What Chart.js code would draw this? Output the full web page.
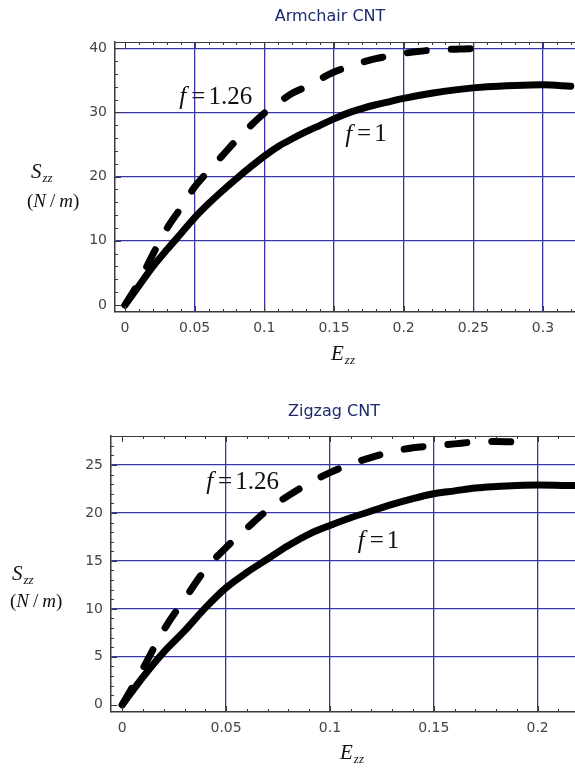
<!DOCTYPE html>
<html>
<head>
<meta charset="utf-8">
<title>Armchair / Zigzag CNT</title>
<script src="https://cdn.jsdelivr.net/npm/chart.js@4.4.1/dist/chart.umd.min.js"></script>
<style>
  html, body { margin: 0; padding: 0; background: #fff; }
  #wrap { position: relative; width: 575px; height: 769px; }
  canvas { position: absolute; left: 0; }
</style>
</head>
<body>
<div id="wrap">
  <canvas id="armchairChart" width="575" height="385" style="top:0"></canvas>
  <canvas id="zigzagChart" width="575" height="384" style="top:385px"></canvas>
</div>
<script>
// Armchair CNT: strain E_zz -> stress S_zz (N/m)
const armStrainF1 = [0, 0.01, 0.02, 0.03, 0.04, 0.05, 0.06, 0.07, 0.08, 0.09, 0.1,
  0.11, 0.12, 0.13, 0.14, 0.15, 0.16, 0.17, 0.18, 0.19, 0.2,
  0.22, 0.24, 0.26, 0.28, 0.3, 0.32];
const armStressF1 = [0, 3, 6, 8.6, 11.1, 13.6, 15.8, 17.8, 19.7, 21.5, 23.2,
  24.7, 25.9, 27.0, 28.0, 29.0, 29.9, 30.6, 31.2, 31.7, 32.2,
  33.0, 33.6, 34.0, 34.2, 34.3, 34.1];
const armStrainF126 = [0, 0.01, 0.02, 0.03, 0.04, 0.05, 0.06, 0.07, 0.08, 0.09, 0.1,
  0.11, 0.12, 0.13, 0.14, 0.15, 0.16, 0.17, 0.18, 0.19, 0.2,
  0.21, 0.22, 0.23, 0.24, 0.25, 0.262];
const armStressF126 = [0, 3.6, 7.9, 11.9, 15.1, 18.4, 20.9, 23.3, 25.7, 27.9, 29.9,
  31.5, 33.0, 34.0, 35.2, 36.3, 37.1, 37.8, 38.4, 38.8, 39.2,
  39.5, 39.7, 39.8, 39.9, 39.95, 40.0];
const armXTicks = [0, 0.05, 0.1, 0.15, 0.2, 0.25, 0.3];
const armYTicks = [0, 10, 20, 30, 40];

// Zigzag CNT
const zigStrainF1 = [0, 0.01, 0.02, 0.03, 0.04, 0.05, 0.06, 0.07, 0.08, 0.09, 0.1,
  0.11, 0.12, 0.13, 0.14, 0.15, 0.16, 0.17, 0.18, 0.19, 0.2, 0.218];
const zigStressF1 = [0, 2.9, 5.5, 7.7, 10.1, 12.2, 13.8, 15.2, 16.6, 17.8, 18.7,
  19.5, 20.2, 20.9, 21.5, 22.0, 22.3, 22.6, 22.75, 22.85, 22.9, 22.85];
const zigStrainF126 = [0, 0.01, 0.02, 0.03, 0.04, 0.05, 0.06, 0.07, 0.08, 0.09, 0.1,
  0.11, 0.12, 0.13, 0.14, 0.15, 0.16, 0.17, 0.18, 0.19, 0.198];
const zigStressF126 = [0, 3.8, 7.8, 11.0, 14.1, 16.4, 18.4, 20.3, 21.8, 23.1, 24.2,
  25.1, 25.8, 26.4, 26.8, 27.0, 27.2, 27.4, 27.45, 27.4, 27.4];
const zigXTicks = [0, 0.05, 0.1, 0.15, 0.2];
const zigYTicks = [0, 5, 10, 15, 20, 25];

const GRID_BLUE = '#3636a8';
const FRAME = '#3a3a3a';
const SERIF = "'Liberation Serif', 'DejaVu Serif', serif";

// helper: write a run of text pieces (italic / subscript) one after another
function drawPieces(ctx, x, y, pieces) {
  let cx = x;
  pieces.forEach(p => {
    ctx.font = (p.italic ? 'italic ' : '') + p.size + 'px ' + SERIF;
    ctx.fillText(p.text, cx, y + (p.dy || 0));
    cx += ctx.measureText(p.text).width + (p.gap || 0);
  });
}

// frame on top, minor + major ticks pointing inward (Mathematica style)
const frameTicksPlugin = {
  id: 'frameTicks',
  afterDatasetsDraw(chart, args, opts) {
    const { ctx, chartArea: a, scales: { x, y } } = chart;
    ctx.save();
    ctx.strokeStyle = FRAME;
    ctx.lineWidth = 1;
    ctx.beginPath();
    ctx.moveTo(a.left, a.top + 0.5);
    ctx.lineTo(a.right, a.top + 0.5);

    const tickX = (step, len) => {
      for (let i = Math.ceil(x.min / step); i * step <= x.max; i++) {
        const px = Math.round(x.getPixelForValue(i * step)) + 0.5;
        ctx.moveTo(px, a.bottom); ctx.lineTo(px, a.bottom - len);
        ctx.moveTo(px, a.top); ctx.lineTo(px, a.top + len);
      }
    };
    const tickY = (step, len) => {
      for (let i = Math.ceil(y.min / step); i * step <= y.max; i++) {
        const py = Math.round(y.getPixelForValue(i * step)) + 0.5;
        ctx.moveTo(a.left, py); ctx.lineTo(a.left + len, py);
      }
    };
    tickX(opts.xMinor, 3);
    tickX(opts.xMajor, 6);
    tickY(opts.yMinor, 3);
    tickY(opts.yMajor, 6);
    ctx.stroke();
    ctx.restore();
  }
};

// titles, axis names and curve labels
const textPlugin = {
  id: 'texts',
  afterDraw(chart, args, opts) {
    const { ctx, scales: { x, y } } = chart;
    ctx.save();
    ctx.fillStyle = '#1c2a6e';
    ctx.font = "16px 'DejaVu Sans', sans-serif";
    ctx.textAlign = 'center';
    ctx.textBaseline = 'middle';
    ctx.fillText(opts.title, opts.titleX, opts.titleY);

    ctx.fillStyle = '#111';
    ctx.textAlign = 'left';
    ctx.textBaseline = 'alphabetic';
    // y axis name
    drawPieces(ctx, opts.yName[0], opts.yName[1], [
      { text: 'S', italic: true, size: 21, gap: 1 },
      { text: 'zz', italic: true, size: 13, dy: 4 }
    ]);
    drawPieces(ctx, opts.yUnit[0], opts.yUnit[1], [
      { text: '(', size: 19 },
      { text: 'N', italic: true, size: 19, gap: 4 },
      { text: '/', size: 19, gap: 4 },
      { text: 'm', italic: true, size: 19 },
      { text: ')', size: 19 }
    ]);
    // x axis name
    drawPieces(ctx, opts.xName[0], opts.xName[1], [
      { text: 'E', italic: true, size: 21, gap: 1 },
      { text: 'zz', italic: true, size: 13, dy: 4 }
    ]);
    // curve labels, placed at data coordinates
    ctx.textBaseline = 'middle';
    opts.labels.forEach(l => {
      drawPieces(ctx, x.getPixelForValue(l.x), y.getPixelForValue(l.y), [
        { text: 'f', italic: true, size: 25, gap: 5 },
        { text: '=', size: 25, gap: 3 },
        { text: l.value, size: 25 }
      ]);
    });
    ctx.restore();
  }
};

function makeChart(canvasId, cfg) {
  const ctx = document.getElementById(canvasId).getContext('2d');
  const lineBase = {
    borderColor: '#000',
    borderWidth: 7,
    pointRadius: 0,
    cubicInterpolationMode: 'monotone',
    borderCapStyle: 'round',
    borderJoinStyle: 'round',
    fill: false
  };
  const tickFont = { family: "'DejaVu Sans', sans-serif", size: 14 };

  return new Chart(ctx, {
    type: 'line',
    data: {
      datasets: [
        {
          ...lineBase,
          label: 'f = 1.26',
          data: cfg.strain126.map((e, i) => ({ x: e, y: cfg.stress126[i] })),
          borderDash: [19, 25]
        },
        {
          ...lineBase,
          label: 'f = 1',
          data: cfg.strain1.map((e, i) => ({ x: e, y: cfg.stress1[i] }))
        }
      ]
    },
    options: {
      responsive: false,
      animation: false,
      layout: { padding: { top: cfg.padTop, right: 0, left: 0, bottom: 0 } },
      plugins: {
        legend: { display: false },
        tooltip: { enabled: false },
        frameTicks: cfg.ticks,
        texts: cfg.texts
      },
      scales: {
        x: {
          type: 'linear',
          min: cfg.xMin,
          max: cfg.xMax,
          afterBuildTicks: s => { s.ticks = cfg.xTicks.map(v => ({ value: v })); },
          afterFit: s => { s.height = cfg.xAxisHeight; },
          ticks: {
            color: '#444',
            font: tickFont,
            padding: 8,
            maxRotation: 0,
            callback: v => String(+v.toFixed(2))
          },
          grid: {
            drawTicks: false,
            lineWidth: 1.3,
            color: c => (c.tick && c.tick.value === 0) ? 'rgba(0,0,0,0)' : GRID_BLUE
          },
          border: { color: FRAME, width: 1.5 }
        },
        y: {
          type: 'linear',
          min: cfg.yMin,
          max: cfg.yMax,
          afterBuildTicks: s => { s.ticks = cfg.yTicks.map(v => ({ value: v })); },
          afterFit: s => { s.width = cfg.yAxisWidth; },
          ticks: { color: '#444', font: tickFont, padding: 8 },
          grid: {
            drawTicks: false,
            lineWidth: 1.3,
            color: c => (c.tick && c.tick.value === 0) ? 'rgba(0,0,0,0)' : GRID_BLUE
          },
          border: { color: FRAME, width: 1.5 }
        }
      }
    },
    plugins: [frameTicksPlugin, textPlugin]
  });
}

makeChart('armchairChart', {
  strain1: armStrainF1, stress1: armStressF1,
  strain126: armStrainF126, stress126: armStressF126,
  xTicks: armXTicks, yTicks: armYTicks,
  xMin: -0.0072, xMax: 0.323, yMin: -1.09, yMax: 40.98,
  padTop: 42, yAxisWidth: 115, xAxisHeight: 73,
  ticks: { xMinor: 0.01, xMajor: 0.05, yMinor: 2, yMajor: 10 },
  texts: {
    title: 'Armchair CNT', titleX: 330, titleY: 17,
    yName: [31, 178], yUnit: [27, 207], xName: [331, 360],
    labels: [
      { x: 0.039, y: 32.4, value: '1.26' },
      { x: 0.158, y: 26.5, value: '1' }
    ]
  }
});

makeChart('zigzagChart', {
  strain1: zigStrainF1, stress1: zigStressF1,
  strain126: zigStrainF126, stress126: zigStressF126,
  xTicks: zigXTicks, yTicks: zigYTicks,
  xMin: -0.0054, xMax: 0.218, yMin: -0.75, yMax: 28.02,
  padTop: 51, yAxisWidth: 111, xAxisHeight: 57,
  ticks: { xMinor: 0.01, xMajor: 0.05, yMinor: 1, yMajor: 5 },
  texts: {
    title: 'Zigzag CNT', titleX: 334, titleY: 27,
    yName: [12, 195], yUnit: [10, 222], xName: [340, 374],
    labels: [
      { x: 0.0404, y: 23.2, value: '1.26' },
      { x: 0.1134, y: 17.0, value: '1' }
    ]
  }
});
</script>
</body>
</html>
